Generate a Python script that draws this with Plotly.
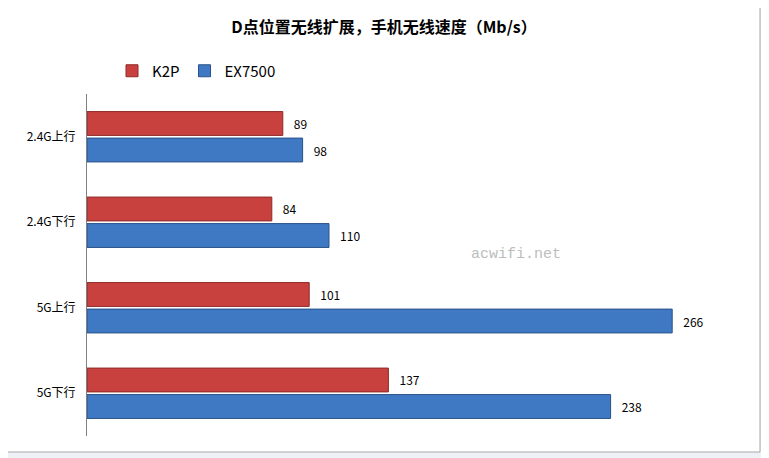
import plotly.graph_objects as go

categories = ["2.4G上行", "2.4G下行", "5G上行", "5G下行"]
k2p = [89, 84, 101, 137]
ex7500 = [98, 110, 266, 238]
series_names = ["K2P", "EX7500"]
title = "D点位置无线扩展，手机无线速度（Mb/s）"
watermark = "acwifi.net"

O = 8  # page body offset
W, H = 769 - O, 458 - O
L, R, T, B = 87 - O, 22, 94 - O, 22
PW, PH = W - L - R, H - T - B
font_cn = "Microsoft YaHei, Noto Sans CJK SC, sans-serif"

fig = go.Figure()
fig.add_trace(go.Bar(
    y=categories, x=k2p, name=series_names[0], orientation="h",
    marker=dict(color="#C9413E", line=dict(color="#8E2B29", width=1)),
    texttemplate="   %{x}", textposition="outside", cliponaxis=False,
    textfont=dict(size=12, color="#000000", family=font_cn),
))
fig.add_trace(go.Bar(
    y=categories, x=ex7500, name=series_names[1], orientation="h",
    marker=dict(color="#3F78C3", line=dict(color="#2A5288", width=1)),
    texttemplate="   %{x}", textposition="outside", cliponaxis=False,
    textfont=dict(size=12, color="#000000", family=font_cn),
))

fig.update_layout(
    width=W, height=H,
    margin=dict(l=L, r=R, t=T, b=B),
    paper_bgcolor="#eef2f7",
    plot_bgcolor="rgba(0,0,0,0)",
    barmode="group", bargap=0.38, bargroupgap=0.1,
    font=dict(family=font_cn, size=12, color="#000000"),
    title=dict(text="<b>" + title + "</b>", x=(384 - O) / W, xanchor="center",
               y=1 - (27 - O) / H, yanchor="middle",
               font=dict(size=16, family=font_cn, color="#000000")),
    legend=dict(orientation="h", x=(112 - 87) / PW, y=1 + (94 - 71) / PH,
                yanchor="middle", xanchor="left", itemwidth=30,
                font=dict(size=15, family=font_cn), bgcolor="rgba(0,0,0,0)"),
    showlegend=True,
    xaxis=dict(range=[0, 300], visible=False, showgrid=False, zeroline=False),
    yaxis=dict(autorange="reversed", showline=True, linecolor="#808080", linewidth=1,
               ticks="", ticklabelstandoff=8, tickfont=dict(size=12), showgrid=False),
    shapes=[dict(type="rect", xref="paper", yref="paper", layer="below",
                 x0=(5 - 87) / PW, x1=(760 - 87) / PW,
                 y0=-(452 - 436) / PH, y1=1 + (94 - 5) / PH,
                 fillcolor="#ffffff", line=dict(color="#a6a6a6", width=1))],
    annotations=[dict(text=watermark, x=(516 - 87) / PW, y=1 - (254 - 94) / PH,
                      xref="paper", yref="paper", showarrow=False,
                      xanchor="center", yanchor="middle",
                      font=dict(size=15, color="#bdbdbd",
                                family="Liberation Mono, DejaVu Sans Mono, monospace"))],
)

fig.write_html("out.html")
